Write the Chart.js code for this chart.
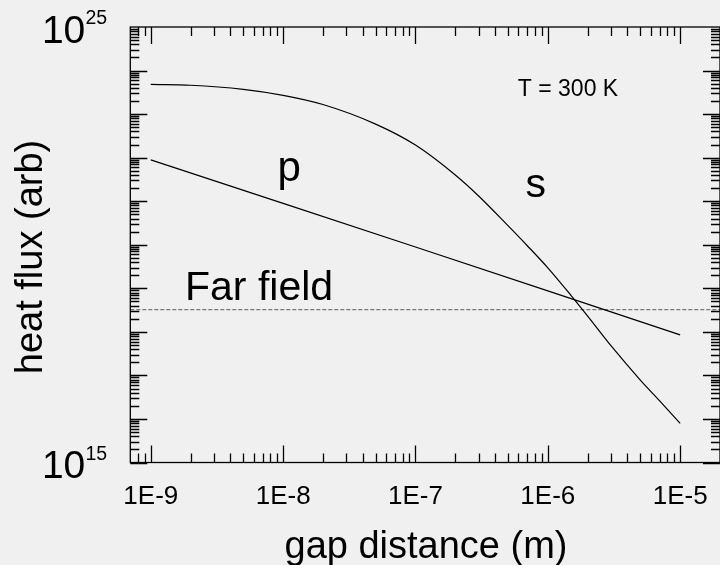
<!DOCTYPE html>
<html>
<head>
<meta charset="utf-8">
<script src="https://cdn.jsdelivr.net/npm/chart.js@4/dist/chart.umd.min.js"></script>
<style>
  html, body { margin: 0; padding: 0; background: #f0f0f0; }
  #wrap { width: 720px; height: 565px; overflow: hidden; }
</style>
</head>
<body>
<div id="wrap"><canvas id="flux" width="720" height="565"></canvas></div>
<script>
// s polarisation: heat flux vs gap distance
const gapS  = [1e-9, 2e-9, 5e-9, 1e-8, 2e-8, 5e-8, 1e-7, 2e-7, 3e-7, 5e-7, 7e-7, 1e-6, 1.5e-6, 2e-6, 3e-6, 5e-6, 7e-6, 1e-5];
const fluxS = [4.8e23, 4.6e23, 3.7e23, 2.7e23, 1.66e23, 5.9e22, 1.95e22, 4.0e21, 1.32e21, 2.75e20, 9.5e19, 2.95e19, 6.8e18, 2.3e18, 4.8e17, 7.8e16, 2.6e16, 7.9e15];

// p polarisation
const gapP  = [1e-9, 1e-8, 1e-7, 1e-6, 1e-5];
const fluxP = [8.9e21, 8.9e20, 8.9e19, 8.7e18, 8.5e17];

// far field limit
const gapFar  = [7e-10, 2e-5];
const fluxFar = [3.25e18, 3.25e18];

// axes
const xMin = 7e-10, xMax = 2e-5;
const yMin = 1e15, yMax = 1e25;
const xTicks = [1e-9, 1e-8, 1e-7, 1e-6, 1e-5];
const xTickLabels = ['1E-9', '1E-8', '1E-7', '1E-6', '1E-5'];
const yLabelValues = [1e15, 1e25];
const yLabelExps = ['15', '25'];

const FONT = '"Liberation Sans", Arial, Helvetica, sans-serif';

function pts(xs, ys) {
  return xs.map((x, i) => ({ x: x, y: ys[i] }));
}

// frame, inward ticks on all four sides, and the text
const framePlugin = {
  id: 'frame',
  beforeDraw(chart) {
    const ctx = chart.ctx;
    ctx.save();
    ctx.fillStyle = '#f0f0f0';
    ctx.fillRect(0, 0, chart.width, chart.height);
    ctx.restore();
  },
  afterDatasetsDraw(chart) {
    const ctx = chart.ctx;
    const a = chart.chartArea;
    const xs = chart.scales.x, ys = chart.scales.y;
    const major = 17, minor = 9;

    ctx.save();
    ctx.strokeStyle = '#000';
    ctx.lineWidth = 1.3;
    ctx.strokeRect(a.left, a.top, a.right - a.left, a.bottom - a.top);

    ctx.beginPath();
    // x ticks (bottom and top)
    for (let e = -10; e <= -5; e++) {
      for (let m = 1; m <= 9; m++) {
        const v = m * Math.pow(10, e);
        if (v <= xMin * 1.001 || v >= xMax * 0.999) continue;
        const px = Math.round(xs.getPixelForValue(v)) + 0.5;
        const len = m === 1 ? major : minor;
        ctx.moveTo(px, a.bottom); ctx.lineTo(px, a.bottom - len);
        ctx.moveTo(px, a.top); ctx.lineTo(px, a.top + len);
      }
    }
    // y ticks (left and right)
    for (let e = 15; e <= 24; e++) {
      for (let m = 1; m <= 9; m++) {
        const v = m * Math.pow(10, e);
        const py = Math.round(ys.getPixelForValue(v)) + 0.5;
        const len = m === 1 ? major : minor;
        ctx.moveTo(a.left, py); ctx.lineTo(a.left + len, py);
        ctx.moveTo(a.right, py); ctx.lineTo(a.right - len, py);
      }
    }
    ctx.stroke();

    ctx.fillStyle = '#000';

    // x tick labels
    ctx.font = '26px ' + FONT;
    ctx.textAlign = 'center';
    ctx.textBaseline = 'alphabetic';
    xTicks.forEach((v, i) => {
      ctx.fillText(xTickLabels[i], xs.getPixelForValue(v), a.bottom + 41);
    });

    // y tick labels, 10 with a raised exponent
    yLabelValues.forEach((v, i) => {
      const py = ys.getPixelForValue(v);
      ctx.textAlign = 'right';
      ctx.font = '39px ' + FONT;
      ctx.fillText('10', a.left - 45, py + 15.5);
      ctx.textAlign = 'left';
      ctx.font = '19.5px ' + FONT;
      ctx.fillText(yLabelExps[i], a.left - 44.8, py - 3);
    });

    // axis titles
    ctx.font = '38px ' + FONT;
    ctx.textAlign = 'center';
    ctx.fillText('gap distance (m)', 426, 558);
    ctx.save();
    ctx.translate(41.7, 257);
    ctx.rotate(-Math.PI / 2);
    ctx.fillText('heat flux (arb)', 0, 0);
    ctx.restore();

    // curve labels
    ctx.textAlign = 'left';
    ctx.font = '41px ' + FONT;
    ctx.fillText('Far field', 185, 300);
    ctx.font = '42px ' + FONT;
    ctx.fillText('p', 277.5, 181);
    ctx.font = '41px ' + FONT;
    ctx.fillText('s', 525.5, 197);
    ctx.font = '23px ' + FONT;
    ctx.fillText('T = 300 K', 517.8, 96);

    ctx.restore();
  }
};

new Chart(document.getElementById('flux'), {
  type: 'line',
  data: {
    datasets: [
      {
        label: 's',
        data: pts(gapS, fluxS),
        borderColor: '#000',
        borderWidth: 1.2,
        pointRadius: 0,
        cubicInterpolationMode: 'monotone'
      },
      {
        label: 'p',
        data: pts(gapP, fluxP),
        borderColor: '#000',
        borderWidth: 1.2,
        pointRadius: 0
      },
      {
        label: 'Far field',
        data: pts(gapFar, fluxFar),
        borderColor: '#777',
        borderWidth: 1.3,
        borderDash: [4, 2],
        pointRadius: 0
      }
    ]
  },
  options: {
    responsive: false,
    animation: false,
    devicePixelRatio: 1,
    layout: { padding: { left: 130.3, top: 27, right: -4, bottom: 102.5 } },
    plugins: { legend: { display: false }, tooltip: { enabled: false } },
    scales: {
      x: { type: 'logarithmic', min: xMin, max: xMax, display: false },
      y: { type: 'logarithmic', min: yMin, max: yMax, display: false }
    }
  },
  plugins: [framePlugin]
});
</script>
</body>
</html>
